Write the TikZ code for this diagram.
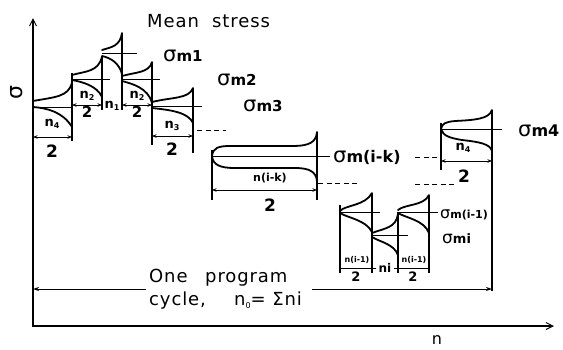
\documentclass[tikz,border=0pt]{standalone}
\usepackage{fontspec}
\setmainfont{DejaVu Sans}
\newfontfamily\spaced[LetterSpace=5]{DejaVu Sans}
\usetikzlibrary{arrows.meta}
\newcommand{\sbs}[1]{\raisebox{-0.35ex}{\fontsize{8}{8}\selectfont #1}}
\newcommand{\sigmlab}[3]{{\fontsize{#1}{#1}\selectfont σ}{\bfseries\fontsize{#2}{#2}\selectfont m#3}}
\tikzset{
  env/.style={line width=1.8pt, line cap=round},
  meanl/.style={line width=0.9pt},
  vert/.style={line width=1.1pt},
  axis/.style={line width=1.1pt, -{Straight Barb[length=7pt,width=7pt,line width=1pt]}},
  dimline/.style={line width=0.8pt, {Stealth[length=4.5pt,width=3.5pt]}-{Stealth[length=4.5pt,width=3.5pt]}},
  larr/.style={line width=0.9pt, {Stealth[length=6pt,width=4pt]}-},
  rarr/.style={line width=0.9pt, -{Stealth[length=6pt,width=4pt]}},
  dashl/.style={line width=0.8pt, dash pattern=on 5pt off 3.5pt},
  lbl/.style={inner sep=0pt, anchor=base west},
  numr/.style={inner sep=0pt, font=\bfseries\fontsize{13}{13}\selectfont},
  smnumr/.style={inner sep=0pt, font=\bfseries\fontsize{8}{8}\selectfont},
  twod/.style={inner sep=0pt, font=\bfseries\fontsize{17}{17}\selectfont},
  smtwod/.style={inner sep=0pt, font=\bfseries\fontsize{13}{13}\selectfont},
  big/.style={inner sep=0pt, anchor=base west, font=\spaced\fontsize{18}{18}\selectfont},
}
\begin{document}
\begin{tikzpicture}[x=1pt,y=-1pt]
\useasboundingbox (0,0) rectangle (563,349);
% axes
\draw[axis] (33,327) -- (33,18);
\draw[axis] (32.5,326) -- (554,326);
\node[rotate=90,inner sep=0pt,font=\fontsize{22}{22}\selectfont] (sig) at (17,93) {σ};
\node[inner sep=0pt,anchor=base,font=\fontsize{16}{16}\selectfont] (nax) at (437,344) {n};
\node[big] (mean) at (147,27) {Mean};
\node[big] (stress) at (212,27) {stress};

% Block A (n4/2)
\draw[env] (33,101) .. controls (55,97) and (68,97) .. (72,83);
\draw[env] (33,107) .. controls (47,108) and (63,112) .. (72,127);
\draw[meanl] (33,107) -- (72,107);
% Block B (n2/2)
\draw[env] (72,75) .. controls (86,71) and (98,72) .. (102,57);
\draw[env] (72,80) .. controls (83,82) and (97,86) .. (102,97);
\draw[meanl] (72,79) -- (110,79);
% Block C (n1)
\draw[env] (102,50) .. controls (112,47) and (120,46) .. (122,33);
\draw[env] (102,56) .. controls (111,58) and (119,63) .. (122,74);
\draw[meanl] (102,53) -- (137,53);
% Block D (n2/2)
\draw[env] (122,76) .. controls (136,72) and (149,73) .. (152,62);
\draw[env] (122,81) .. controls (133,84) and (148,88) .. (152,103);
\draw[meanl] (122,79) -- (160,79);
% Block E (n3/2)
\draw[env] (152,102) .. controls (172,97) and (189,99) .. (193,88);
\draw[env] (152,108) .. controls (170,110) and (188,112) .. (193,123);
\draw[meanl] (152,106) -- (202,106);
% verticals
\draw[vert] (72,73) -- (72,141);
\draw[vert] (102,56) -- (102,110);
\draw[vert] (122,33) -- (122,110);
\draw[vert] (152,62) -- (152,145);
\draw[vert] (193,88) -- (193,153);
% dims
\draw[dimline] (33,137) -- (72,137);
\node[numr] (nA) at (52,124) {n\sbs{4}};
\node[twod] (dA) at (52,151) {2};
\draw[dimline] (72,105) -- (102,105);
\node[numr] (nB) at (87,96) {n\sbs{2}};
\node[smtwod,font=\bfseries\fontsize{15}{15}\selectfont] (dB) at (87,112) {2};
\node[numr] (nC) at (112,106) {n\sbs{1}};
\draw[dimline] (122,105) -- (152,105);
\node[numr] (nD) at (137,96) {n\sbs{2}};
\node[smtwod,font=\bfseries\fontsize{15}{15}\selectfont] (dD) at (137,112) {2};
\draw[dimline] (152,136) -- (193,136);
\node[numr] (nE) at (172,126) {n\sbs{3}};
\node[twod] (dE) at (172,149) {2};
\draw[dashl] (197,130) -- (226,130);

% Block F n(i-k)/2
\draw[env] (212,156) .. controls (213,148) and (218,146) .. (230,146) -- (292,146) .. controls (310,146) and (316,142) .. (317,132);
\draw[env] (212,156) .. controls (213,165) and (220,168) .. (235,168) -- (295,168) .. controls (310,168) and (316,172) .. (317,181);
\draw[meanl] (212,156) -- (330,156);
\draw[vert] (212,150) -- (212,200);
\draw[vert] (317,132) -- (317,200);
\draw[dimline] (212,190) -- (317,190);
\node[numr,font=\bfseries\fontsize{11}{11}\selectfont] (nF) at (270,178) {n(i-k)};
\node[twod] (dF) at (270,205) {2};
\draw[dashl] (318,183) -- (360,183);

% Block G n4/2
\draw[env] (441,129) .. controls (442,123) and (446,122) .. (455,121) .. controls (475,120) and (489,119) .. (492,110);
\draw[env] (441,129) .. controls (443,136) and (450,138) .. (462,140) .. controls (480,142) and (490,144) .. (492,151);
\draw[meanl] (441,129) -- (502,129);
\draw[vert] (441,123) -- (441,170);
\draw[vert] (492,110) -- (492,291);
\draw[dimline] (441,161) -- (492,161);
\node[numr] (nG) at (463,148) {n\sbs{4}};
\node[twod] (dG) at (464,176) {2};
\draw[dashl] (415,157) -- (441,157);
\draw[dashl] (415,184) -- (457,184);

% Blocks H, I, J
\draw[env] (340,211) .. controls (345,205) and (365,206) .. (372,193);
\draw[env] (340,213) .. controls (348,218) and (366,220) .. (372,232);
\draw[meanl] (340,212) -- (380,212);
\draw[env] (372,233) .. controls (385,228) and (396,228) .. (398,214);
\draw[env] (372,237) .. controls (380,242) and (394,244) .. (398,255);
\draw[meanl] (372,235) -- (408,235);
\draw[env] (398,210) .. controls (405,204) and (424,206) .. (429,195);
\draw[env] (398,213) .. controls (406,218) and (424,220) .. (429,233);
\draw[meanl] (398,212) -- (438,212);
\draw[vert] (340,205) -- (340,273);
\draw[vert] (372,193) -- (372,273);
\draw[vert] (398,212) -- (398,273);
\draw[vert] (429,195) -- (429,273);
\draw[line width=0.8pt] (340,268) -- (372,268);
\draw[line width=0.8pt] (372,268) -- (376,268);
\draw[line width=0.8pt] (394,268) -- (398,268);
\draw[line width=0.8pt] (398,268) -- (429,268);
\node[smnumr] (nH) at (357,260) {n(i-1)};
\node[smtwod] (dH) at (356,277) {2};
\node[numr,font=\bfseries\fontsize{12}{12}\selectfont] (nI) at (385,268) {ni};
\node[smnumr] (nJ) at (414,260) {n(i-1)};
\node[smtwod] (dJ) at (413,277) {2};

% mean stress labels
\node[lbl] (s1) at (163,61) {\sigmlab{21}{15}{1}};
\node[lbl] (s2) at (217,85) {\sigmlab{21}{15}{2}};
\node[lbl] (s3) at (243,111) {\sigmlab{21}{15}{3}};
\node[lbl] (sik) at (333,162) {\sigmlab{21}{16}{(i-k)}};
\node[lbl] (s4) at (518,136) {\sigmlab{21}{16}{4}};
\node[lbl] (si1) at (440,218) {\sigmlab{16}{11}{(i-1)}};
\node[lbl] (si) at (442,243) {\sigmlab{17}{13}{i}};

% program cycle
\draw[larr] (33,289) -- (146,289);
\draw[rarr] (312,289) -- (492,289);
\node[big] (one) at (149,282) {One};
\node[big] (prog) at (205,282) {program};
\node[big] (cyc) at (149,305) {cycle,};
\node[big] (nsum) at (234,305) {n\sbs{0}= Σni};
\end{tikzpicture}
\end{document}
